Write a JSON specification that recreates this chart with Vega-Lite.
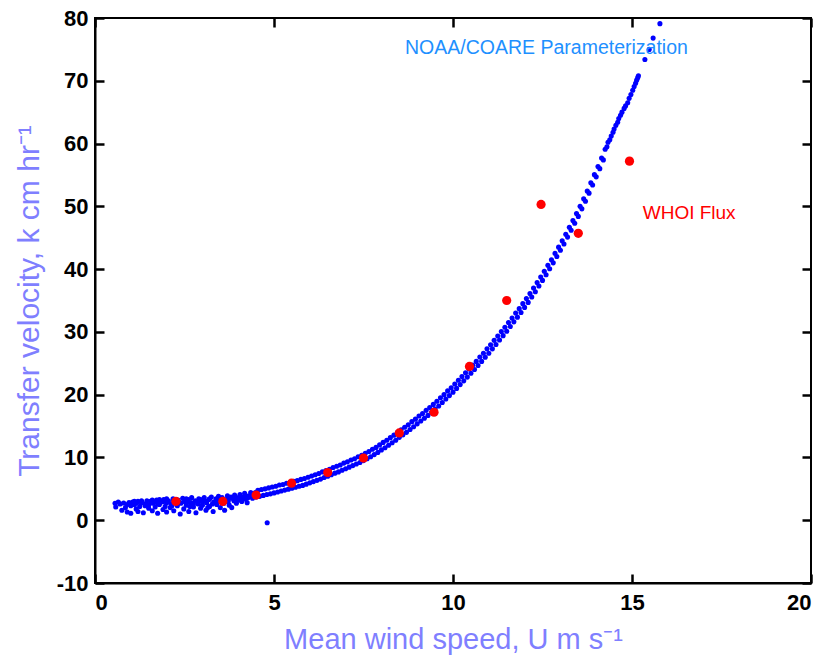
{
  "$schema": "https://vega.github.io/schema/vega-lite/v6.json",
  "width": 716,
  "height": 565,
  "autosize": {"type": "none"},
  "padding": {"left": 95, "top": 18, "right": 15, "bottom": 72},
  "background": "white",
  "config": {
    "view": {"stroke": "black", "strokeWidth": 2},
    "axis": {
      "grid": false,
      "domainColor": "black",
      "domainWidth": 2,
      "tickColor": "black",
      "tickWidth": 2.5,
      "labelFont": "Liberation Sans",
      "labelFontWeight": "bold",
      "labelFontSize": 22,
      "labelColor": "black",
      "titleFont": "Liberation Sans",
      "titleFontWeight": "normal",
      "titleFontSize": 30,
      "titleColor": "#7f7fff"
    }
  },
  "datasets": {
    "coare": [
      {"u":0.56,"k":2.7},{"u":0.58,"k":2.1},{"u":0.7,"k":2.6},{"u":0.75,"k":1.6},{"u":0.8,"k":2.75},{"u":0.85,"k":2.0},{"u":0.9,"k":1.3},{"u":0.95,"k":2.8},{"u":1.0,"k":2.3},{"u":1.0,"k":1.1},
      {"u":1.05,"k":2.9},{"u":1.1,"k":2.5},{"u":1.1,"k":3.0},{"u":1.15,"k":1.8},{"u":1.2,"k":3.0},{"u":1.2,"k":1.4},{"u":1.25,"k":2.2},{"u":1.3,"k":2.8},{"u":1.3,"k":3.1},{"u":1.35,"k":1.2},{"u":1.4,"k":2.6},{"u":1.45,"k":3.1},{"u":1.5,"k":1.9},{"u":1.5,"k":2.4},
      {"u":1.55,"k":3.0},{"u":1.6,"k":1.5},{"u":1.6,"k":3.2},{"u":1.62,"k":2.7},{"u":1.68,"k":2.1},{"u":1.72,"k":3.2},{"u":1.75,"k":1.1},{"u":1.8,"k":2.5},{"u":1.85,"k":2.9},{"u":1.9,"k":1.7},{"u":1.9,"k":3.0},{"u":1.92,"k":3.3},{"u":1.96,"k":2.2},{"u":2.0,"k":1.3},{"u":2.0,"k":2.8},
      {"u":2.05,"k":3.1},{"u":2.1,"k":2.0},{"u":2.12,"k":2.6},{"u":2.18,"k":3.4},{"u":2.2,"k":1.5},{"u":2.2,"k":3.1},{"u":2.25,"k":2.9},{"u":2.3,"k":2.3},{"u":2.32,"k":3.2},{"u":2.38,"k":1.0},{"u":2.4,"k":2.7},{"u":2.45,"k":3.5},{"u":2.48,"k":1.8},{"u":2.5,"k":3.0},
      {"u":2.55,"k":2.4},{"u":2.6,"k":3.3},{"u":2.6,"k":3.0},{"u":2.62,"k":1.4},{"u":2.68,"k":2.8},{"u":2.7,"k":3.6},{"u":2.75,"k":2.1},{"u":2.8,"k":3.1},{"u":2.82,"k":1.2},{"u":2.88,"k":2.6},{"u":2.9,"k":3.4},{"u":2.9,"k":3.0},{"u":2.95,"k":1.9},{"u":3.0,"k":3.0},{"u":3.0,"k":2.4},
      {"u":3.05,"k":3.6},{"u":3.1,"k":1.6},{"u":3.12,"k":2.8},{"u":3.18,"k":3.3},{"u":3.2,"k":2.2},{"u":3.2,"k":3.4},{"u":3.25,"k":3.7},{"u":3.3,"k":1.4},{"u":3.32,"k":2.9},{"u":3.38,"k":3.4},{"u":3.4,"k":2.5},{"u":3.45,"k":3.8},{"u":3.5,"k":2.0},{"u":3.5,"k":3.1},{"u":3.5,"k":3.5},
      {"u":3.55,"k":3.6},{"u":3.6,"k":2.7},{"u":3.62,"k":1.6},{"u":3.68,"k":3.3},{"u":3.7,"k":3.9},{"u":3.75,"k":2.4},{"u":3.8,"k":3.5},{"u":3.8,"k":3.7},{"u":3.82,"k":2.0},{"u":3.88,"k":3.1},{"u":3.9,"k":4.0},{"u":3.95,"k":2.7},{"u":4.0,"k":3.6},{"u":4.0,"k":3.2},
      {"u":4.05,"k":4.1},{"u":4.1,"k":3.0},{"u":4.12,"k":3.7},{"u":4.18,"k":4.3},{"u":4.2,"k":3.4},{"u":4.2,"k":3.9},{"u":4.25,"k":2.8},{"u":4.3,"k":3.9},{"u":4.35,"k":4.4},{"u":4.4,"k":3.5},{"u":4.4,"k":4.2},{"u":4.45,"k":4.0},
      {"u":0.65,"k":2.9},{"u":0.9,"k":2.5},{"u":1.15,"k":2.7},{"u":1.4,"k":2.3},{"u":1.65,"k":2.9},{"u":1.8,"k":3.3},{"u":2.0,"k":3.4},{"u":2.15,"k":2.3},{"u":2.35,"k":2.9},{"u":2.55,"k":3.4},{"u":2.75,"k":2.6},{"u":2.95,"k":3.3},
      {"u":3.1,"k":3.0},{"u":3.28,"k":2.6},{"u":3.42,"k":3.1},{"u":3.6,"k":3.3},{"u":3.72,"k":3.0},{"u":3.92,"k":3.5},{"u":4.08,"k":3.4},{"u":4.28,"k":3.6},{"u":4.48,"k":4.4},{"u":1.75,"k":2.6},{"u":2.65,"k":2.2},{"u":3.15,"k":2.0},
      {"u":4.81,"k":-0.4},
      {"u":4.5,"k":3.7},{"u":4.55,"k":4.75},{"u":4.6,"k":3.8},{"u":4.65,"k":4.9},{"u":4.7,"k":3.95},{"u":4.75,"k":5.0},{"u":4.8,"k":4.1},{"u":4.85,"k":5.15},{"u":4.9,"k":4.2},{"u":4.95,"k":5.3},
      {"u":5.0,"k":4.35},{"u":5.05,"k":5.4},{"u":5.1,"k":4.5},{"u":5.15,"k":5.6},{"u":5.2,"k":4.65},{"u":5.25,"k":5.7},{"u":5.3,"k":4.8},{"u":5.35,"k":5.9},{"u":5.4,"k":4.95},{"u":5.45,"k":6.0},
      {"u":5.5,"k":5.1},{"u":5.55,"k":6.2},{"u":5.6,"k":5.25},{"u":5.65,"k":6.3},{"u":5.7,"k":5.4},{"u":5.75,"k":6.5},{"u":5.8,"k":5.55},{"u":5.85,"k":6.65},{"u":5.9,"k":5.75},{"u":5.95,"k":6.85},
      {"u":6.0,"k":5.95},{"u":6.05,"k":7.05},{"u":6.1,"k":6.15},{"u":6.15,"k":7.25},{"u":6.2,"k":6.35},{"u":6.25,"k":7.45},{"u":6.3,"k":6.55},{"u":6.35,"k":7.7},{"u":6.4,"k":6.8},{"u":6.45,"k":7.9},
      {"u":6.5,"k":7.0},{"u":6.55,"k":8.1},{"u":6.6,"k":7.25},{"u":6.65,"k":8.4},{"u":6.7,"k":7.5},{"u":6.75,"k":8.6},{"u":6.8,"k":7.7},{"u":6.85,"k":8.8},{"u":6.9,"k":7.95},{"u":6.95,"k":9.1},
      {"u":7.0,"k":8.2},{"u":7.05,"k":9.3},{"u":7.1,"k":8.45},{"u":7.15,"k":9.6},{"u":7.2,"k":8.7},{"u":7.25,"k":9.8},{"u":7.3,"k":8.95},{"u":7.35,"k":10.1},{"u":7.4,"k":9.2},{"u":7.45,"k":10.35},
      {"u":7.5,"k":9.5},{"u":7.55,"k":10.65},{"u":7.6,"k":9.8},{"u":7.65,"k":10.95},{"u":7.7,"k":10.1},{"u":7.75,"k":11.3},{"u":7.8,"k":10.45},{"u":7.85,"k":11.6},{"u":7.9,"k":10.8},{"u":7.95,"k":12.0},
      {"u":8.0,"k":11.2},{"u":8.05,"k":12.4},{"u":8.1,"k":11.55},{"u":8.15,"k":12.75},{"u":8.2,"k":11.95},{"u":8.25,"k":13.15},{"u":8.3,"k":12.35},{"u":8.35,"k":13.55},{"u":8.4,"k":12.75},{"u":8.45,"k":14.0},
      {"u":8.5,"k":13.2},{"u":8.55,"k":14.4},{"u":8.6,"k":13.6},{"u":8.65,"k":14.8},{"u":8.7,"k":14.0},{"u":8.75,"k":15.2},{"u":8.8,"k":14.45},{"u":8.85,"k":15.7},{"u":8.9,"k":14.9},{"u":8.95,"k":16.1},
      {"u":9.0,"k":15.35},{"u":9.05,"k":16.6},{"u":9.1,"k":15.8},{"u":9.15,"k":17.0},{"u":9.2,"k":16.25},{"u":9.25,"k":17.5},{"u":9.3,"k":16.7},{"u":9.35,"k":17.95},{"u":9.4,"k":17.2},{"u":9.45,"k":18.45},
      {"u":9.5,"k":17.7},{"u":9.55,"k":18.95},{"u":9.6,"k":18.2},{"u":9.65,"k":19.5},{"u":9.7,"k":18.75},{"u":9.75,"k":20.0},{"u":9.8,"k":19.3},{"u":9.85,"k":20.6},{"u":9.9,"k":19.85},{"u":9.95,"k":21.1},
      {"u":10.0,"k":20.4},{"u":10.05,"k":21.7},{"u":10.1,"k":21.0},{"u":10.15,"k":22.3},{"u":10.2,"k":21.6},{"u":10.25,"k":22.9},{"u":10.3,"k":22.2},{"u":10.35,"k":23.5},{"u":10.4,"k":22.8},{"u":10.45,"k":24.1},
      {"u":10.5,"k":23.4},{"u":10.55,"k":24.7},{"u":10.6,"k":24.0},{"u":10.65,"k":25.3},{"u":10.7,"k":24.65},{"u":10.75,"k":26.0},{"u":10.8,"k":25.3},{"u":10.85,"k":26.6},{"u":10.9,"k":25.95},{"u":10.95,"k":27.3},
      {"u":11.0,"k":26.6},{"u":11.05,"k":27.95},{"u":11.1,"k":27.3},{"u":11.15,"k":28.65},{"u":11.2,"k":28.0},{"u":11.25,"k":29.35},{"u":11.3,"k":28.7},{"u":11.35,"k":30.05},{"u":11.4,"k":29.4},{"u":11.45,"k":30.75},
      {"u":11.5,"k":30.1},{"u":11.55,"k":31.5},{"u":11.6,"k":30.85},{"u":11.65,"k":32.2},{"u":11.7,"k":31.6},{"u":11.75,"k":33.0},{"u":11.8,"k":32.35},{"u":11.85,"k":33.7},{"u":11.9,"k":33.1},{"u":11.95,"k":34.5},
      {"u":12.0,"k":33.9},{"u":12.05,"k":35.3},{"u":12.1,"k":34.7},{"u":12.15,"k":36.1},{"u":12.2,"k":35.55},{"u":12.25,"k":37.0},{"u":12.3,"k":36.4},{"u":12.35,"k":37.85},{"u":12.4,"k":37.3},{"u":12.45,"k":38.75},
      {"u":12.5,"k":38.2},{"u":12.55,"k":39.65},{"u":12.6,"k":39.1},{"u":12.65,"k":40.6},{"u":12.7,"k":40.05},{"u":12.75,"k":41.5},{"u":12.8,"k":41.0},{"u":12.85,"k":42.5},{"u":12.9,"k":42.0},{"u":12.95,"k":43.5},
      {"u":13.0,"k":43.0},{"u":13.05,"k":44.5},{"u":13.1,"k":44.0},{"u":13.15,"k":45.55},{"u":13.2,"k":45.1},{"u":13.25,"k":46.65},{"u":13.3,"k":46.2},{"u":13.35,"k":47.75},{"u":13.4,"k":47.3},{"u":13.45,"k":48.85},
      {"u":13.5,"k":48.4},{"u":13.55,"k":50.0},{"u":13.6,"k":49.6},{"u":13.65,"k":51.2},{"u":13.7,"k":50.8},{"u":13.75,"k":52.45},{"u":13.8,"k":52.1},{"u":13.85,"k":53.75},{"u":13.9,"k":53.4},{"u":13.95,"k":55.05},
      {"u":14.0,"k":54.7},{"u":14.05,"k":56.35},{"u":14.1,"k":56.0},{"u":14.15,"k":57.7},{"u":14.2,"k":57.4},{"u":14.25,"k":59.1},
      {"u":14.3,"k":59.5},{"u":14.33,"k":60.2},{"u":14.38,"k":60.6},{"u":14.42,"k":61.2},{"u":14.47,"k":61.8},{"u":14.5,"k":62.3},{"u":14.55,"k":62.9},{"u":14.6,"k":63.4},{"u":14.63,"k":64.0},{"u":14.68,"k":64.5},
      {"u":14.72,"k":65.0},{"u":14.78,"k":65.6},{"u":14.82,"k":66.0},{"u":14.88,"k":66.5},{"u":14.92,"k":67.2},{"u":14.97,"k":67.8},{"u":15.02,"k":68.5},{"u":15.06,"k":69.1},{"u":15.1,"k":69.6},{"u":15.13,"k":70.1},
      {"u":15.16,"k":70.5},{"u":15.18,"k":70.8},{"u":15.36,"k":73.4},{"u":15.48,"k":75.0},{"u":15.59,"k":76.8},{"u":15.78,"k":79.1}
    ],
    "whoi": [
      {"u":2.26,"k":3.0},{"u":3.57,"k":3.0},{"u":4.5,"k":4.0},{"u":5.49,"k":5.9},{"u":6.5,"k":7.6},{"u":7.5,"k":9.9},{"u":8.5,"k":13.9},
      {"u":9.47,"k":17.2},{"u":10.46,"k":24.5},{"u":11.5,"k":35.0},{"u":12.46,"k":50.3},{"u":13.5,"k":45.7},{"u":14.93,"k":57.2}
    ],
    "noaaLabel": [{"u":8.66,"k":75.2,"text":"NOAA/COARE Parameterization"}],
    "whoiLabel": [{"u":15.3,"k":49.0,"text":"WHOI Flux"}]
  },
  "layer": [
    {
      "data": {"name": "coare"},
      "mark": {"type": "point", "shape": "circle", "filled": true, "size": 26, "color": "#0000ff", "opacity": 1},
      "encoding": {
        "x": {"field": "u", "type": "quantitative", "scale": {"domain": [0, 20], "nice": false, "zero": false},
              "axis": {"orient": "bottom", "values": [0, 5, 10, 15, 20], "ticks": true, "tickSize": -9, "zindex": 1, "title": "Mean wind speed, U m s⁻¹", "labelPadding": 18, "titlePadding": 12, "titleFontSize": 29}},
        "y": {"field": "k", "type": "quantitative", "scale": {"domain": [-10, 80], "nice": false, "zero": false},
              "axis": {"orient": "left", "values": [-10, 0, 10, 20, 30, 40, 50, 60, 70, 80], "ticks": true, "tickSize": -9, "zindex": 1, "labelExpr": "datum.value + ''", "title": "Transfer velocity, k cm hr⁻¹", "labelPadding": 16, "titlePadding": 12}}
      }
    },
    {
      "data": {"name": "whoi"},
      "mark": {"type": "point", "shape": "circle", "filled": true, "size": 85, "color": "#ff0000", "opacity": 1},
      "encoding": {
        "x": {"field": "u", "type": "quantitative", "axis": null},
        "y": {"field": "k", "type": "quantitative", "axis": null}
      }
    },
    {
      "data": {"name": "noaaLabel"},
      "mark": {"type": "text", "align": "left", "baseline": "middle", "font": "Liberation Sans", "fontSize": 19.5, "color": "#1e90ff"},
      "encoding": {
        "x": {"field": "u", "type": "quantitative",
              "axis": {"orient": "top", "ticks": true, "tickSize": -9, "zindex": 1, "values": [0, 5, 10, 15, 20], "labels": false, "title": null, "domain": false}},
        "y": {"field": "k", "type": "quantitative",
              "axis": {"orient": "right", "ticks": true, "tickSize": -9, "zindex": 1, "values": [-10, 0, 10, 20, 30, 40, 50, 60, 70, 80], "labels": false, "title": null, "domain": false}},
        "text": {"field": "text"}
      }
    },
    {
      "data": {"name": "whoiLabel"},
      "mark": {"type": "text", "align": "left", "baseline": "middle", "font": "Liberation Sans", "fontSize": 19, "color": "#ff0000"},
      "encoding": {
        "x": {"field": "u", "type": "quantitative", "axis": null},
        "y": {"field": "k", "type": "quantitative", "axis": null},
        "text": {"field": "text"}
      }
    }
  ],
  "resolve": {"axis": {"x": "independent", "y": "independent"}}
}
